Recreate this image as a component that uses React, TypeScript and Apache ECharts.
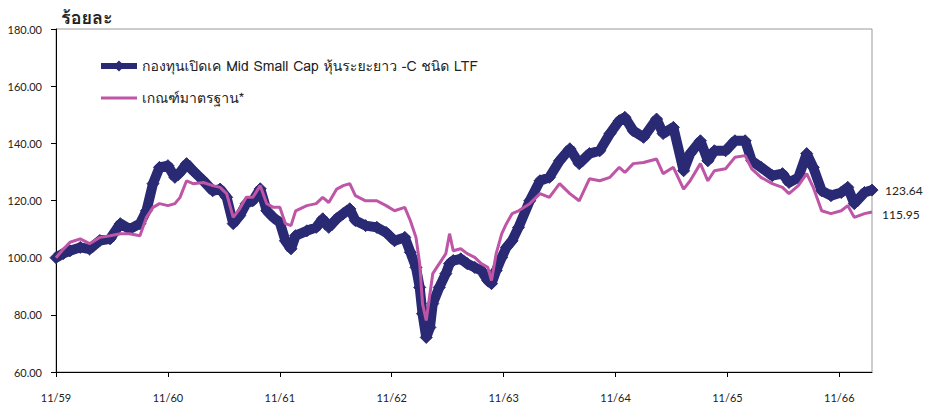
import React, { useEffect, useRef } from "react";
import * as echarts from "echarts";

// months since 11/59 (Nov 2016)
const months = [
  0, 0.8, 1.5, 2.6, 3.6, 4.7, 5.8, 6.9, 7.9, 9.0, 9.7, 10.4, 11.1, 12.0, 12.75, 13.3, 14.0, 14.7, 15.8, 16.8,
  17.6, 18.3, 19.0, 19.7, 20.4, 21.1, 21.9, 22.6, 23.3, 24.0, 24.6, 25.2, 25.7, 26.9, 27.9, 28.6, 29.25, 30.1,
  30.8, 31.5, 32.1, 33.2, 34.4, 35.4, 36.3, 37.4, 38.0, 38.6, 39.0, 39.3, 39.7, 40.1, 40.4, 41.1, 41.8, 42.2,
  42.6, 43.4, 44.1, 44.9, 45.6, 46.3, 46.7, 47.2, 47.8, 48.3, 48.9, 49.6, 50.8, 51.9, 52.9, 54.0, 55.1, 56.1,
  57.2, 58.3, 59.4, 60.4, 61.0, 61.9, 63.0, 64.4, 65.1, 66.2, 67.3, 68.0, 69.1, 69.9, 70.6, 71.8, 72.8, 73.9,
  74.6, 75.6, 76.8, 77.9, 78.6, 79.6, 80.5, 81.2, 82.1, 83.1, 84.2, 84.9, 85.6, 86.7, 87.5,
];

const fundValues = [
  100, 101.5, 102.4, 103.6, 103, 106, 106.6, 111.9, 110, 111.9, 116.4, 125.9, 131.6, 132.2, 128.1, 129.8, 132.9,
  130.4, 126.9, 123.4, 124, 121.1, 111.9, 114.7, 118.9, 119.9, 124.1, 116.4, 114.1, 112.3, 105.9, 103.1, 107.7,
  109.4, 110.6, 113.6, 110.6, 113.6, 115.4, 117.1, 113, 111.2, 110.6, 108.8, 105.9, 107.1, 101.9, 96.6, 89.6,
  80.4, 72.1, 75.6, 83.9, 89.6, 94.4, 97.9, 99, 99.6, 97.9, 96.6, 95.5, 92, 90.9, 95.5, 100.1, 103.6, 105.9,
  110.6, 119.9, 126.9, 128.1, 133.9, 138.1, 132.9, 136.4, 137.4, 143.4, 147.9, 149.1, 144.4, 142.1, 148.5,
  143.4, 145.6, 130.4, 136.4, 140.9, 133.9, 137.4, 137.4, 140.9, 140.9, 133.9, 131.6, 128.7, 129.4, 126.3, 128,
  136.4, 131.6, 123.4, 121.7, 122.8, 124.6, 118.9, 122.8, 123.64,
];

const benchValues = [
  100, 103, 105.4, 106.6, 104.9, 107.1, 107.7, 108.4, 108.4, 107.7, 114.1, 117.6, 118.9, 118.2, 118.9, 121.1,
  126.9, 125.9, 126.3, 125.2, 124.6, 122.4, 114.1, 117.1, 121.1, 121.1, 125.2, 118.9, 117.6, 117.6, 111.9, 111.2,
  116.4, 118.2, 118.9, 121.1, 119.3, 124, 125.2, 125.9, 121.7, 119.9, 119.9, 118.2, 116.4, 117.6, 112.9, 107.1,
  97.9, 83.9, 78, 87.4, 94.4, 97.9, 101.4, 108.4, 102.4, 103.1, 101.4, 100.1, 97.9, 96.6, 92, 101.4, 108.4,
  111.9, 115.4, 116.4, 118.9, 122.4, 121.1, 125.9, 122.4, 119.9, 127.6, 126.9, 128.1, 131.6, 129.8, 132.9, 133.3,
  134.5, 129.4, 131.6, 124, 126.9, 132.9, 126.9, 130.4, 131.1, 135.1, 135.7, 131.1, 128.1, 125.9, 124.6, 122.4,
  125.2, 129.4, 124.6, 116.4, 115.4, 116.4, 118.2, 114.1, 115.4, 115.95,
];

const seriesNames = ["กองทุนเปิดเค Mid Small Cap หุ้นระยะยาว -C ชนิด LTF", "เกณฑ์มาตรฐาน*"];
const yTicks = [60, 80, 100, 120, 140, 160, 180];
const startYearBE = 59;

const NAVY = "#2a2a74";
const PINK = "#be55a6";
const THAI = "Loma, 'Noto Sans Thai Looped', Garuda, 'Noto Sans Thai', 'Noto Sans', sans-serif";
const NUM = "Lato, 'Liberation Sans', sans-serif";

export default function App() {
  const ref = useRef<HTMLDivElement>(null);
  useEffect(() => {
    if (!ref.current) return;
    const chart = echarts.init(ref.current, null, { renderer: "svg" });
    const fund = months.map((m, i) => [m, fundValues[i]]);
    const bench = months.map((m, i) => [m, benchValues[i]]);
    chart.setOption({
      animation: false,
      backgroundColor: "#ffffff",
      title: {
        text: "ร้อยละ",
        left: 56,
        top: 3,
        textStyle: { fontFamily: THAI, fontSize: 18, fontWeight: "bold", color: "#222" },
      },
      legend: {
        orient: "vertical",
        left: 98,
        top: 59,
        padding: 0,
        itemGap: 18,
        itemWidth: 36,
        itemHeight: 14,
        textStyle: { fontFamily: THAI, fontSize: 14, color: "#222" },
        data: [
          {
            name: seriesNames[0],
            lineStyle: { width: 6, color: NAVY },
            itemStyle: { color: NAVY },
          },
          { name: seriesNames[1], lineStyle: { width: 3, color: PINK }, itemStyle: { opacity: 0 } },
        ],
      },
      grid: {
        left: 56,
        right: 57,
        top: 29,
        bottom: 34,
        show: true,
        borderColor: "#999",
        borderWidth: 1,
      },
      xAxis: {
        type: "value",
        min: 0,
        max: 87.5,
        interval: 12,
        axisLine: { lineStyle: { color: "#000", width: 1 } },
        axisTick: { length: 5, lineStyle: { color: "#000" } },
        splitLine: { show: false },
        axisLabel: {
          margin: 20,
          fontFamily: NUM,
          fontSize: 11,
          color: "#222",
          showMaxLabel: false,
          formatter: (v: number) =>
            Math.abs(v % 12) < 1e-6 ? "11/" + (startYearBE + Math.round(v / 12)) : "",
        },
      },
      yAxis: {
        type: "value",
        min: yTicks[0],
        max: yTicks[yTicks.length - 1],
        interval: 20,
        axisLine: { show: true, lineStyle: { color: "#000", width: 1 } },
        axisTick: { show: true, length: 5, lineStyle: { color: "#000" } },
        splitLine: { show: false },
        axisLabel: {
          margin: 14,
          fontFamily: NUM,
          fontSize: 11,
          color: "#222",
          formatter: (v: number) => v.toFixed(2),
        },
      },
      series: [
        {
          name: seriesNames[0],
          type: "line",
          data: fund,
          symbol: "diamond",
          symbolSize: 12,
          showAllSymbol: true,
          itemStyle: { color: NAVY, borderColor: NAVY },
          lineStyle: { color: NAVY, width: 10 },
          z: 2,
          endLabel: {
            show: true,
            distance: 13,
            fontFamily: NUM,
            fontSize: 12,
            color: "#222",
            formatter: () => fundValues[fundValues.length - 1].toFixed(2),
          },
        },
        {
          name: seriesNames[1],
          type: "line",
          data: bench,
          symbol: "none",
          itemStyle: { color: PINK },
          lineStyle: { color: PINK, width: 3 },
          z: 3,
          endLabel: {
            show: true,
            distance: 10,
            offset: [0, 2],
            fontFamily: NUM,
            fontSize: 12,
            color: "#222",
            formatter: () => benchValues[benchValues.length - 1].toFixed(2),
          },
        },
      ],
    });
    return () => chart.dispose();
  }, []);
  return <div ref={ref} style={{ width: 929, height: 406, position: "absolute", left: 0, top: 0 }} />;
}
